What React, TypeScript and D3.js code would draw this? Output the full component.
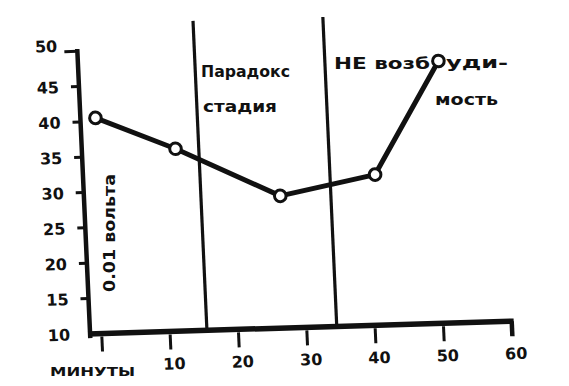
import React from "react";
import * as d3 from "d3";

// Data
const minutes = [0.5, 12, 27, 41, 51];
const volts = [40.5, 35.8, 28.7, 31.3, 47.1];
const xTickValues = [0, 10, 20, 30, 40, 50, 60];
const xTickLabels = ["", "10", "20", "30", "40", "50", "60"];
const yTickValues = [10, 15, 20, 25, 30, 35, 40, 45, 50];
const yTickLabels = ["10", "15", "20", "25", "30", "35", "40", "45", "50"];
const stageBoundaries = [15.4, 34.4];
const stageTop = 53.8;
const yAxisAt = -1.7;

const W = 569;
const H = 386;

export default function App() {
  const x = d3.scaleLinear().domain([0, 60]).range([0, 410]);
  const y = d3.scaleLinear().domain([10, 50]).range([0, -282.6]);
  const pts: [number, number][] = minutes.map((m, i) => [m, volts[i]]);
  const line = d3
    .line<[number, number]>()
    .x((d) => x(d[0]))
    .y((d) => y(d[1]));
  const ax = x(yAxisAt);
  const ink = "#111";
  const font = "'DejaVu Sans', sans-serif";

  return (
    <svg
      width={W}
      height={H}
      style={{ position: "absolute", left: 0, top: 0, background: "#fff" }}
      fontFamily={font}
      fontWeight="bold"
    >
      <rect width={W} height={H} fill="#fff" />
      <g transform="matrix(1,-0.03,0.045,1,101.7,333.5)">
        {/* stage boundaries */}
        {stageBoundaries.map((m, i) => (
          <line
            key={"s" + i}
            x1={x(m)}
            x2={x(m)}
            y1={y(10)}
            y2={y(stageTop)}
            stroke={ink}
            strokeWidth={3.2}
          />
        ))}
        {/* y axis */}
        <line x1={ax} x2={ax} y1={2} y2={y(50)} stroke={ink} strokeWidth={4.5} strokeLinecap="square" />
        {yTickValues.map((v, i) =>
          v === 10 ? null : (
            <line
              key={"yt" + i}
              x1={ax - (v === 50 ? 13 : 8)}
              x2={ax}
              y1={y(v)}
              y2={y(v)}
              stroke={ink}
              strokeWidth={3}
            />
          )
        )}
        {yTickValues.map((v, i) => (
          <text
            key={"yl" + i}
            x={ax - 20}
            y={y(v) + (v === 50 ? 0 : 6)}
            textAnchor="end"
            fontSize={16}
            fill={ink}
          >
            {yTickLabels[i]}
          </text>
        ))}
        {/* x axis */}
        <line x1={ax - 2} x2={x(60) + 2} y1={0} y2={0} stroke={ink} strokeWidth={5.5} />
        {xTickValues.map((m, i) => (
          <line
            key={"xt" + i}
            x1={x(m)}
            x2={x(m)}
            y1={m === 60 ? 0 : 3}
            y2={m === 60 ? 15 : 18}
            stroke={ink}
            strokeWidth={m === 60 ? 4.5 : 3}
          />
        ))}
        {xTickValues.map((m, i) => (
          <text key={"xl" + i} x={x(m) + 3} y={38} textAnchor="middle" fontSize={16} fill={ink}>
            {xTickLabels[i]}
          </text>
        ))}
        {/* data */}
        <path d={line(pts) || ""} fill="none" stroke={ink} strokeWidth={5} strokeLinejoin="round" />
        {pts.map((p, i) => (
          <circle key={"p" + i} cx={x(p[0])} cy={y(p[1])} r={5.8} fill="#fff" stroke={ink} strokeWidth={3} />
        ))}
      </g>
      {/* annotations */}
      <text x={50} y={376} fontSize={13} fill={ink} textLength={85} lengthAdjust="spacingAndGlyphs">
        МИНУТЫ
      </text>
      <text x={201} y={77} fontSize={16} fill={ink} textLength={89} lengthAdjust="spacingAndGlyphs">
        Парадокс
      </text>
      <text x={203} y={112} fontSize={16} fill={ink} textLength={74} lengthAdjust="spacingAndGlyphs">
        стадия
      </text>
      <text x={334} y={69} fontSize={16} fill={ink} textLength={96} lengthAdjust="spacingAndGlyphs">
        НЕ возб
      </text>
      <text x={446} y={68} fontSize={16} fill={ink} textLength={62} lengthAdjust="spacingAndGlyphs">
        уди-
      </text>
      <text x={435} y={105} fontSize={16} fill={ink} textLength={63} lengthAdjust="spacingAndGlyphs">
        мость
      </text>
      <text
        transform="translate(115,292) rotate(-90)"
        fontSize={15}
        fill={ink}
        textLength={118}
        lengthAdjust="spacingAndGlyphs"
      >
        0.01 вольта
      </text>
    </svg>
  );
}
